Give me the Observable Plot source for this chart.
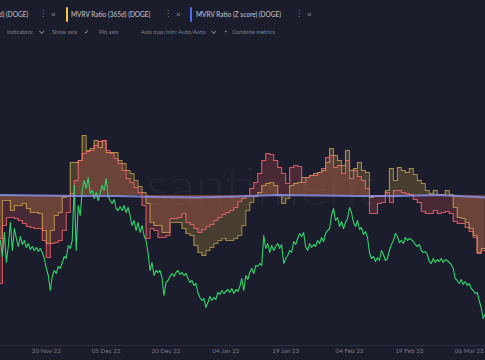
<!DOCTYPE html>
<html><head><meta charset="utf-8">
<script src="https://cdn.jsdelivr.net/npm/d3@7"></script>
<script src="https://cdn.jsdelivr.net/npm/@observablehq/plot@0.6"></script>
<style>
html,body{margin:0;padding:0;background:#1c1d2c;width:485px;height:360px;overflow:hidden;font-family:Lato,"Open Sans",sans-serif;}
#head{position:relative;height:45px;width:485px;overflow:hidden;}
.t{position:absolute;white-space:nowrap;line-height:10px;transform-origin:0 50%;}
.r1{top:9px;font-size:7.6px;color:#c6c8d4;transform:scaleX(0.86);}
.r2{top:27px;font-size:6.3px;color:#80838f;transform:scaleX(0.92);}
.dots{font-family:"DejaVu Sans",sans-serif;color:#8a8d9c;font-size:8px;transform:none;}
.x{color:#8a8d9c;font-size:8px;transform:none;}
.bar{position:absolute;top:7px;width:2px;height:15px;border-radius:1px;}
.chev{position:absolute;width:2.5px;height:2.5px;border-right:1px solid #80838f;border-bottom:1px solid #80838f;transform:rotate(45deg);top:29px;}
</style></head><body>
<div id="head">
  <span class="t r1" style="left:-1px">d) (DOGE)</span>
  <span class="t r1 dots" style="left:39px">⋮</span>
  <span class="t r1 x" style="left:51px">×</span>
  <div class="bar" style="left:66px;background:#f2c94c"></div>
  <span class="t r1" style="left:71px">MVRV Ratio (365d) (DOGE)</span>
  <span class="t r1 dots" style="left:164px">⋮</span>
  <span class="t r1 x" style="left:176px">×</span>
  <div class="bar" style="left:190px;background:#4f6df5"></div>
  <span class="t r1" style="left:196px">MVRV Ratio (Z score) (DOGE)</span>
  <span class="t r1 dots" style="left:295px">⋮</span>
  <span class="t r1 x" style="left:307px">×</span>

  <span class="t r2" style="left:7px">Indicators:</span>
  <div class="chev" style="left:40px"></div>
  <span class="t r2" style="left:52px">Show axis</span>
  <span class="t r2" style="left:84px;color:#c6c8d4;font-family:'DejaVu Sans';font-size:6.5px">✓</span>
  <span class="t r2" style="left:99px">Pin axis</span>
  <span class="t r2" style="left:141px">Axis max/min: Auto/Auto</span>
  <div class="chev" style="left:212px"></div>
  <span class="t r2" style="left:224px">+</span>
  <span class="t r2" style="left:232px">Combine metrics</span>
</div>
<div id="chart"></div>
<script>
// ---- data ----
// daily MVRV values, first day 2022-11-08 (UTC)
const mvrvStart = "2022-11-08";
const mvrv30d = [
0.56, 0.85, 0.89, 0.89, 0.885, 0.875, 0.86, 0.845, 0.84, 0.835,
0.835, 0.775, 0.69, 0.76, 0.765, 0.775, 0.825, 0.915, 1.01, 1.075,
1.175, 1.21, 1.22, 1.225, 1.25, 1.27, 1.275, 1.225, 1.21, 1.185,
1.16, 1.125, 1.085, 1.065, 1.04, 1.015, 0.95, 0.785, 0.835, 0.825,
0.79, 0.79, 0.80, 0.885, 0.885, 0.89, 0.91, 0.865, 0.855, 0.835,
0.815, 0.83, 0.845, 0.855, 0.875, 0.89, 0.905, 0.915, 0.925, 0.94,
0.97, 0.985, 1.0, 1.035, 1.065, 1.11, 1.175, 1.21, 1.205, 1.175,
1.14, 1.11, 1.06, 1.14, 1.15, 1.145, 1.065, 1.09, 1.10, 1.10,
1.115, 1.135, 1.19, 1.20, 1.14, 1.15, 1.11, 1.175, 1.085, 1.125,
1.095, 1.075, 1.035, 0.91, 0.91, 0.96, 0.965, 1.015, 0.965, 1.025,
1.025, 1.015, 1.01, 1.005, 0.98, 0.965, 0.92, 0.91, 0.91, 0.925,
0.91, 0.915, 0.92, 0.91, 0.87, 0.86, 0.86, 0.84, 0.82, 0.79,
0.71, 0.725, 0.725
];
const mvrv365d = [
0.785, 0.975, 0.975, 0.925, 0.95, 0.95, 0.96, 0.935, 0.915, 0.915,
0.91, 0.825, 0.76, 0.825, 0.90, 0.915, 0.99, 0.995, 1.165, 1.165,
1.175, 1.30, 1.225, 1.235, 1.275, 1.24, 1.275, 1.215, 1.215, 1.215,
1.175, 1.16, 1.125, 1.11, 1.075, 1.045, 1.015, 0.96, 0.865, 0.85,
0.85, 0.815, 0.815, 0.865, 0.865, 0.865, 0.835, 0.81, 0.80, 0.75,
0.715, 0.70, 0.725, 0.74, 0.76, 0.775, 0.785, 0.775, 0.775, 0.785,
0.80, 0.85, 0.925, 0.965, 0.995, 1.015, 1.05, 1.06, 1.065, 1.05,
1.0, 0.96, 0.985, 1.05, 1.06, 1.065, 1.09, 1.09, 1.10, 1.11,
1.115, 1.125, 1.165, 1.235, 1.20, 1.175, 1.15, 1.225, 1.125, 1.135,
1.165, 1.125, 1.115, 0.99, 0.995, 0.995, 0.995, 1.025, 1.135, 1.075,
1.14, 1.125, 1.115, 1.135, 1.105, 1.075, 1.06, 1.025, 1.01, 1.025,
1.005, 1.005, 1.025, 1.005, 0.94, 0.89, 0.885, 0.865, 0.835, 0.80,
0.715, 0.735, 0.735
];
// DOGE price (USD), every 12 hours from 2022-11-08 00:00 UTC
const priceStart = "2022-11-08T00:00Z";
const priceDoge = [
0.0864,0.0880,0.0848,0.0896,0.0836,0.0870,0.0916,0.0860,0.0904,0.0884,
0.0868,0.0888,0.0872,0.0880,0.0866,0.0874,0.0862,0.0868,0.0860,0.0866,
0.0858,0.0864,0.0856,0.0844,0.0824,0.0810,0.0780,0.0808,0.0820,0.0814,
0.0828,0.0824,0.0836,0.0848,0.0844,0.0870,0.0864,0.0880,0.0990,0.0860,
0.0950,0.0930,0.0980,0.1000,0.0984,0.1006,0.0974,0.0980,0.0964,0.0976,
0.0960,0.0974,0.0990,0.0980,0.1004,0.0970,0.0960,0.0954,0.0962,0.0944,
0.0940,0.0948,0.0940,0.0950,0.0936,0.0946,0.0930,0.0910,0.0920,0.0900,
0.0916,0.0896,0.0910,0.0890,0.0880,0.0856,0.0820,0.0836,0.0810,0.0820,
0.0816,0.0820,0.0806,0.0770,0.0796,0.0800,0.0808,0.0814,0.0808,0.0816,
0.0820,0.0812,0.0816,0.0810,0.0814,0.0804,0.0796,0.0800,0.0790,0.0794,
0.0776,0.0766,0.0760,0.0764,0.0746,0.0756,0.0768,0.0760,0.0766,0.0762,
0.0776,0.0772,0.0780,0.0774,0.0778,0.0782,0.0776,0.0784,0.0774,0.0782,
0.0778,0.0788,0.0804,0.0780,0.0810,0.0802,0.0816,0.0824,0.0814,0.0830,
0.0828,0.0834,0.0830,0.0890,0.0864,0.0874,0.0856,0.0870,0.0860,0.0868,
0.0874,0.0864,0.0872,0.0834,0.0844,0.0850,0.0860,0.0856,0.0878,0.0872,
0.0884,0.0894,0.0888,0.0896,0.0868,0.0860,0.0874,0.0866,0.0872,0.0868,
0.0880,0.0874,0.0886,0.0878,0.0894,0.0900,0.0904,0.0930,0.0944,0.0920,
0.0926,0.0908,0.0918,0.0904,0.0916,0.0924,0.0946,0.0936,0.0916,0.0908,
0.0920,0.0902,0.0906,0.0892,0.0898,0.0886,0.0856,0.0844,0.0848,0.0838,
0.0846,0.0840,0.0860,0.0852,0.0840,0.0844,0.0860,0.0872,0.0880,0.0894,
0.0888,0.0876,0.0880,0.0874,0.0886,0.0880,0.0884,0.0882,0.0878,0.0872,
0.0868,0.0872,0.0860,0.0856,0.0858,0.0852,0.0838,0.0834,0.0844,0.0836,
0.0842,0.0838,0.0844,0.0836,0.0842,0.0840,0.0836,0.0832,0.0824,0.0804,
0.0800,0.0794,0.0802,0.0792,0.0798,0.0790,0.0794,0.0784,0.0780,0.0774,
0.0776,0.0760,0.0746,0.0724,0.0732
];
// MVRV Z score
const zDates = ["2022-11-08","2022-11-18","2022-11-28","2022-12-08","2022-12-18","2022-12-28","2023-01-07","2023-01-17","2023-01-27","2023-02-06","2023-02-16","2023-02-26","2023-03-08","2023-03-10"];
const zScore = [0.1, 0, -0.1, -0.1, -0.3, -0.4, -0.2, 0.1, 0, -0.1, -0.1, 0.1, -0.3, -0.4];
// x-axis tick labels
const tickDates = ["2022-11-20","2022-12-05","2022-12-20","2023-01-04","2023-01-19","2023-02-04","2023-02-19","2023-03-06"];

// ---- build tables ----
const DAY = 864e5;
const t0 = Date.parse(mvrvStart + "T00:00Z");
const mvrvRows = mvrv30d.map((v, i) => ({date: new Date(t0 + i * DAY), r30: v, r365: mvrv365d[i]}));
const p0 = Date.parse(priceStart);
const priceRows = priceDoge.map((p, i) => ({date: new Date(p0 + i * DAY / 2), price: p}));
const zRows = zDates.map((d, i) => ({date: new Date(d + "T00:00Z"), z: zScore[i]}));
const ticks = tickDates.map(d => new Date(d + "T00:00Z"));

// independent metric axes mapped onto the shared (hidden) y scale
const priceAxis = d3.scaleLinear().domain([0.07, 0.10]).range([0.325, 1.075]);
const zAxis = d3.scaleLinear().domain([-1, 1]).range([0.975, 1.025]);
const fmt = d3.utcFormat("%d %b %y");

const chart = Plot.plot({
  width: 485, height: 315,
  marginTop: 0, marginBottom: 15, marginLeft: 0, marginRight: 0,
  style: {background: "#1c1d2c", color: "#767988", fontFamily: "Lato, sans-serif", fontSize: "6.3px", overflow: "hidden"},
  x: {type: "utc", domain: [new Date(Date.UTC(2022,10,8,12,30)), new Date(Date.UTC(2023,2,10,2))], axis: null},
  y: {domain: [0.25, 1.75], axis: null},
  marks: [
    Plot.text(["santiment"], {frameAnchor: "middle", dx: 18, dy: -8, fontSize: 54, fontWeight: 300, fill: "#ffffff", fillOpacity: 0.035}),
    Plot.ruleY([0.25], {stroke: "#2c2e40", strokeWidth: 1}),
    Plot.text(ticks, {x: d => d, text: d => fmt(d), frameAnchor: "bottom", dy: 7, fill: "#767988"}),
    Plot.areaY(mvrvRows, {x: "date", y1: 1, y2: "r365", curve: "step-after", fill: "#f5c542", fillOpacity: 0.2}),
    Plot.areaY(mvrvRows, {x: "date", y1: 1, y2: "r30", curve: "step-after", fill: "#ff5b5b", fillOpacity: 0.2}),
    Plot.line(mvrvRows, {x: "date", y: "r365", curve: "step-after", stroke: "#e6bf55", strokeOpacity: 0.65, strokeWidth: 1.1}),
    Plot.line(mvrvRows, {x: "date", y: "r30", curve: "step-after", stroke: "#ff6670", strokeOpacity: 0.8, strokeWidth: 1.1}),
    Plot.line(priceRows, {x: "date", y: d => priceAxis(d.price), stroke: "#2fd36c", strokeWidth: 1.1}),
    Plot.line(zRows, {x: "date", y: d => zAxis(d.z), stroke: "#8a8fe6", strokeOpacity: 0.85, strokeWidth: 2})
  ]
});
document.getElementById("chart").appendChild(chart);
</script>
</body></html>
